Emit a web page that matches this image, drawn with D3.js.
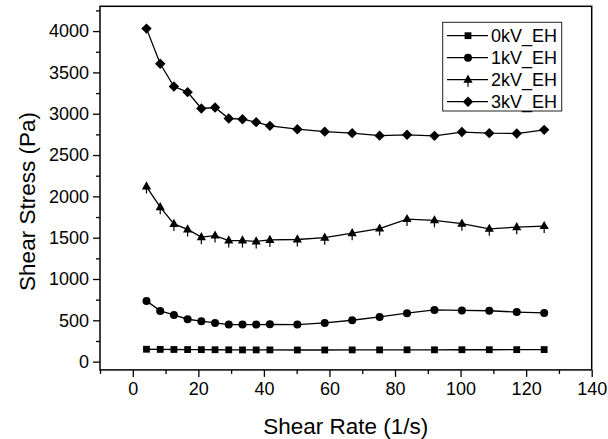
<!DOCTYPE html>
<html>
<head>
<meta charset="utf-8">
<script src="https://cdn.jsdelivr.net/npm/d3@7"></script>
<style>
  html, body { margin: 0; padding: 0; background: #fff; }
  svg { display: block; }
  text { font-family: Arial, "Liberation Sans", sans-serif; fill: #000; }
</style>
</head>
<body>
<svg id="chart" width="608" height="439"></svg>
<script>
// Shear rate (1/s) for each measured point
const shearRate = [4.18, 8.37, 12.55, 16.73, 20.92, 25.10, 29.28, 33.47, 37.65, 41.83,
                   50.20, 58.56, 66.93, 75.30, 83.66, 92.03, 100.40, 108.76, 117.13, 125.50];

// Shear stress (Pa) at each field strength
const stress0kV = [150, 148, 147, 146, 145, 144, 143, 142, 142, 142,
                   141, 141, 142, 142, 143, 143, 144, 144, 145, 146];
const stress1kV = [735, 614, 565, 513, 489, 468, 448, 448, 448, 452,
                   448, 468, 501, 541, 586, 626, 620, 616, 600, 590];
const stress2kV = [2119, 1869, 1667, 1600, 1506, 1525, 1465, 1465, 1455, 1473,
                   1478, 1500, 1555, 1610, 1725, 1710, 1670, 1607, 1627, 1640];
const stress3kV = [4030, 3604, 3329, 3261, 3063, 3075, 2942, 2934, 2898, 2853,
                   2813, 2783, 2765, 2735, 2745, 2732, 2778, 2765, 2760, 2805];

const seriesNames = ["0kV_EH", "1kV_EH", "2kV_EH", "3kV_EH"];
const seriesMarkers = ["square", "circle", "triangle", "diamond"];

const xMajorTicks = [0, 20, 40, 60, 80, 100, 120, 140];
const xMinorTicks = [-10, 10, 30, 50, 70, 90, 110, 130];
const yMajorTicks = [0, 500, 1000, 1500, 2000, 2500, 3000, 3500, 4000];
const yMinorTicks = [250, 750, 1250, 1750, 2250, 2750, 3250, 3750, 4250];

const series = seriesNames.map((name, i) => ({
  name,
  marker: seriesMarkers[i],
  values: [stress0kV, stress1kV, stress2kV, stress3kV][i].map((v, j) => ({ x: shearRate[j], y: v }))
}));

const svg = d3.select("#chart");
const plot = { left: 100, right: 591.7, top: 6.3, bottom: 369.9 };

const x = d3.scaleLinear().domain([-10, 140]).range([plot.left, plot.right]);
const y = d3.scaleLinear().domain([-100, 4300]).range([plot.bottom, plot.top]);

// Marker glyph paths centred on the origin
function markerPath(type) {
  switch (type) {
    case "square": { const h = 3.4; return `M${-h},${-h}H${h}V${h}H${-h}Z`; }
    case "circle": { const r = 4; return `M${r},0A${r},${r} 0 1,1 ${-r},0A${r},${r} 0 1,1 ${r},0Z`; }
    case "triangle": return "M0,-5.2L4.6,3L-4.6,3Z";
    case "diamond": { const d = 5.2; return `M0,${-d}L${d},0L0,${d}L${-d},0Z`; }
  }
}

function drawMarker(g, type, cx, cy) {
  if (type === "triangle") {
    g.append("line")
      .attr("x1", cx).attr("x2", cx)
      .attr("y1", cy - 3).attr("y2", cy + 7)
      .attr("stroke", "#000").attr("stroke-width", 1.2);
  }
  g.append("path")
    .attr("d", markerPath(type))
    .attr("transform", `translate(${cx},${cy})`)
    .attr("fill", "#000");
}

// Axes with outward ticks
const xAxis = d3.axisBottom(x).tickValues(xMajorTicks).tickSize(7).tickPadding(5).tickFormat(d3.format("d"));
const xAxisMinor = d3.axisBottom(x).tickValues(xMinorTicks).tickSize(4).tickFormat("");
const yAxis = d3.axisLeft(y).tickValues(yMajorTicks).tickSize(7).tickPadding(4).tickFormat(d3.format("d"));
const yAxisMinor = d3.axisLeft(y).tickValues(yMinorTicks).tickSize(4).tickFormat("");

function styleAxis(g) {
  g.select(".domain").remove();
  g.selectAll(".tick line").attr("stroke", "#000").attr("stroke-width", 1.3);
  g.selectAll(".tick text").attr("font-size", 18).attr("font-family", "Arial, 'Liberation Sans', sans-serif").attr("fill", "#000");
}

svg.append("g").attr("transform", `translate(0,${plot.bottom})`).call(xAxis).call(styleAxis);
svg.append("g").attr("transform", `translate(0,${plot.bottom})`).call(xAxisMinor).call(styleAxis);
svg.append("g").attr("transform", `translate(${plot.left},0)`).call(yAxis).call(styleAxis);
svg.append("g").attr("transform", `translate(${plot.left},0)`).call(yAxisMinor).call(styleAxis);

// Frame around the plotting area
svg.append("rect")
  .attr("x", plot.left).attr("y", plot.top)
  .attr("width", plot.right - plot.left).attr("height", plot.bottom - plot.top)
  .attr("fill", "none").attr("stroke", "#000").attr("stroke-width", 1.5);

// Data lines and markers
const line = d3.line().x(d => x(d.x)).y(d => y(d.y));
series.forEach(s => {
  const g = svg.append("g");
  g.append("path").datum(s.values)
    .attr("d", line).attr("fill", "none")
    .attr("stroke", "#000").attr("stroke-width", 1.3);
  s.values.forEach(d => drawMarker(g, s.marker, x(d.x), y(d.y)));
});

// Axis titles
svg.append("text")
  .attr("x", (plot.left + plot.right) / 2).attr("y", 434)
  .attr("text-anchor", "middle").attr("font-size", 22.5)
  .text("Shear Rate (1/s)");

svg.append("text")
  .attr("transform", "translate(35,201.5) rotate(-90)")
  .attr("text-anchor", "middle").attr("font-size", 22.5)
  .text("Shear Stress (Pa)");

// Legend
const legend = svg.append("g");
legend.append("rect")
  .attr("x", 442.7).attr("y", 22.3).attr("width", 119).attr("height", 88.7)
  .attr("fill", "#fff").attr("stroke", "#222").attr("stroke-width", 1);
series.forEach((s, i) => {
  const cy = 35.7 + i * 22;
  legend.append("line")
    .attr("x1", 447).attr("x2", 488).attr("y1", cy).attr("y2", cy)
    .attr("stroke", "#000").attr("stroke-width", 1.3);
  drawMarker(legend, s.marker, 468, cy);
  legend.append("text")
    .attr("x", 491).attr("y", cy).attr("dy", "0.36em")
    .attr("font-size", 18)
    .text(s.name);
});
</script>
</body>
</html>
